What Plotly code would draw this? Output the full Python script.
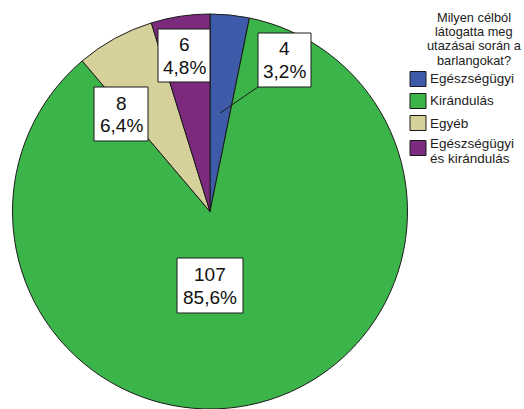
import plotly.graph_objects as go

W, H = 524, 409

categories = ["Egészségügyi", "Kirándulás", "Egyéb", "Egészségügyi és kirándulás"]
legend_lines = [["Egészségügyi"], ["Kirándulás"], ["Egyéb"], ["Egészségügyi", "és kirándulás"]]
counts = [4, 107, 8, 6]
colors = ["#3d5ba8", "#3bb54a", "#d6d09b", "#7b2a7e"]
legend_title = ["Milyen célból", "látogatta meg", "utazásai során a", "barlangokat?"]

total = sum(counts)
value_text = [str(c) for c in counts]
pct_text = [f"{c / total * 100:.1f}%".replace(".", ",") for c in counts]

# label boxes (pixels: x0, y0, x1, y1) – layout only
label_box = [(258, 33, 311, 87), (177, 258, 243, 313), (94, 87, 148, 141), (158, 29, 210, 82)]
leader = ((258, 87), (220, 113))  # leader line of the first label

FONT = "Liberation Sans, Arial"

def px2paper(x, y):
    return x / W, 1 - y / H

fig = go.Figure(go.Pie(
    labels=categories,
    values=counts,
    sort=False,
    direction="clockwise",
    rotation=0,
    marker=dict(colors=colors, line=dict(color="#1a1a1a", width=1)),
    textinfo="none",
    textposition="inside",
    hoverinfo="label+value+percent",
    domain=dict(x=[12 / W, 408 / W], y=[0, 1 - 14 / H]),
    showlegend=False,
))

annotations = []
shapes = []

# leader line
(lx0, ly0), (lx1, ly1) = leader
a0 = px2paper(lx0, ly0)
a1 = px2paper(lx1, ly1)
shapes.append(dict(type="line", xref="paper", yref="paper",
                   x0=a0[0], y0=a0[1], x1=a1[0], y1=a1[1],
                   line=dict(color="#1a1a1a", width=1)))

for i in range(len(counts)):
    x0, y0, x1, y1 = label_box[i]
    p0 = px2paper(x0, y0)
    p1 = px2paper(x1, y1)
    shapes.append(dict(type="rect", xref="paper", yref="paper",
                       x0=p0[0], x1=p1[0], y0=p1[1], y1=p0[1],
                       fillcolor="white", line=dict(color="#1a1a1a", width=1)))
    cx = (x0 + x1) / 2
    cy = (y0 + y1) / 2
    for txt, dy in ((value_text[i], -11), (pct_text[i], 11.5)):
        tx, ty = px2paper(cx, cy + dy)
        annotations.append(dict(
            x=tx, y=ty, xref="paper", yref="paper", text=txt, showarrow=False,
            xanchor="center", yanchor="middle",
            font=dict(family=FONT, size=19, color="#111")))

# legend title (one annotation per line for tight spacing)
for j, line in enumerate(legend_title):
    tx, ty = px2paper(474, 17 + 14.5 * j)
    annotations.append(dict(
        x=tx, y=ty, xref="paper", yref="paper", text=line, showarrow=False,
        xanchor="center", yanchor="middle",
        font=dict(family=FONT, size=12.8, color="#222")))

item_y = [79, 101, 123, 148]
for k, lines in enumerate(legend_lines):
    yc = item_y[k]
    q0 = px2paper(410, yc - 7.5)
    q1 = px2paper(426, yc + 7.5)
    shapes.append(dict(type="rect", xref="paper", yref="paper",
                       x0=q0[0], x1=q1[0], y0=q1[1], y1=q0[1],
                       fillcolor=colors[k], line=dict(color="#1a1a1a", width=1)))
    start = yc if len(lines) == 1 else 143.5
    for m, line in enumerate(lines):
        tx, ty = px2paper(428, start + 15.2 * m)
        annotations.append(dict(
            x=tx, y=ty, xref="paper", yref="paper", text=line, showarrow=False,
            xanchor="left", yanchor="middle",
            font=dict(family=FONT, size=13.5, color="#222")))

fig.update_layout(
    width=W, height=H,
    margin=dict(l=0, r=0, t=0, b=0),
    paper_bgcolor="white",
    plot_bgcolor="white",
    showlegend=False,
    annotations=annotations,
    shapes=shapes,
)

fig.write_html("out.html", config={"displayModeBar": False},
               post_script="document.body.style.margin='0';")
